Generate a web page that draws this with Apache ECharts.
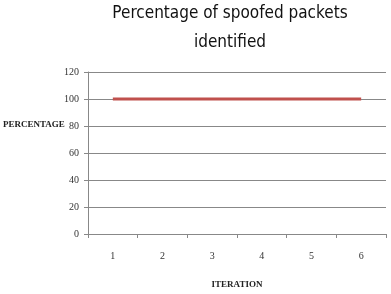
<!DOCTYPE html>
<html>
<head>
<meta charset="utf-8">
<title>chart</title>
<style>
  html, body { margin: 0; padding: 0; background: #fff; }
  #chart { width: 391px; height: 294px; }
</style>
</head>
<body>
<div id="chart"></div>
<script src="https://cdn.jsdelivr.net/npm/echarts@6/dist/echarts.min.js"></script>
<script>
var iterations = ['1', '2', '3', '4', '5', '6'];
var percentage = [100, 100, 100, 100, 100, 100];
var yTicks = { min: 0, max: 120, interval: 20 };

var myChart = echarts.init(document.getElementById('chart'));
var option = {
  animation: false,
  title: {
    text: 'Percentage of spoofed packets\nidentified',
    left: 225,
    textAlign: 'center',
    top: -6,
    textStyle: {
      fontFamily: 'DejaVu Sans Condensed',
      fontWeight: 'normal',
      fontSize: 17,
      lineHeight: 29,
      color: '#111'
    }
  },
  grid: { left: 88, right: 5, top: 72, bottom: 60 },
  xAxis: {
    type: 'category',
    data: iterations,
    boundaryGap: true,
    name: 'ITERATION',
    nameLocation: 'middle',
    nameGap: 46,
    nameTextStyle: { fontFamily: 'Liberation Serif', fontSize: 9, fontWeight: 'bold', color: '#222' },
    axisLine: { lineStyle: { color: '#888' } },
    axisTick: { show: true, length: 4, lineStyle: { color: '#888' } },
    axisLabel: { fontFamily: 'Liberation Serif', fontSize: 10, color: '#333', margin: 17 }
  },
  yAxis: {
    type: 'value',
    min: yTicks.min,
    max: yTicks.max,
    interval: yTicks.interval,
    axisLine: { show: true, lineStyle: { color: '#888' } },
    axisTick: { show: true, length: 4, lineStyle: { color: '#888' } },
    splitLine: { lineStyle: { color: '#888' } },
    axisLabel: { fontFamily: 'Liberation Serif', fontSize: 10, color: '#333', margin: 9 }
  },
  graphic: [{
    type: 'text',
    left: 3,
    top: 120,
    style: { text: 'PERCENTAGE', font: 'bold 9px "Liberation Serif"', fill: '#222' }
  }],
  series: [{
    type: 'line',
    data: percentage,
    symbol: 'none',
    lineStyle: { color: '#c0504d', width: 3 }
  }]
};
myChart.setOption(option);
</script>
</body>
</html>
